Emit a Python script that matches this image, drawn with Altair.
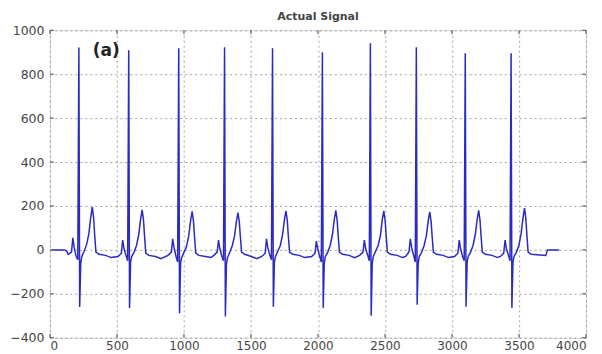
import altair as alt
import pandas as pd

# ECG samples (x = sample index, y = amplitude)
signal_x = [
    15, 110, 125,
    136, 161, 171, 181, 196, 208, 216, 222, 230, 238, 256, 274, 291, 304, 316, 326, 334, 343, 366, 416, 456,
    508, 533, 543, 553, 568, 580, 588, 594, 602, 610, 628, 646, 663, 676, 688, 698, 706, 715, 738, 788, 828,
    881, 906, 916, 926, 941, 953, 961, 967, 975, 983, 1001, 1019, 1036, 1049, 1061, 1071, 1079, 1088, 1111, 1161, 1201,
    1223, 1248, 1258, 1268, 1283, 1295, 1303, 1309, 1317, 1325, 1343, 1361, 1378, 1391, 1403, 1413, 1421, 1430, 1453, 1503, 1543,
    1581, 1606, 1616, 1626, 1641, 1653, 1661, 1667, 1675, 1683, 1701, 1719, 1736, 1749, 1761, 1771, 1779, 1788, 1811, 1861, 1901,
    1953, 1978, 1988, 1998, 2013, 2025, 2033, 2039, 2047, 2055, 2073, 2091, 2108, 2121, 2133, 2143, 2151, 2160, 2183, 2233, 2273,
    2311, 2336, 2346, 2356, 2371, 2383, 2391, 2397, 2405, 2413, 2431, 2449, 2466, 2479, 2491, 2501, 2509, 2518, 2541, 2591, 2631,
    2654, 2679, 2689, 2699, 2714, 2726, 2734, 2740, 2748, 2756, 2774, 2792, 2809, 2822, 2834, 2844, 2852, 2861, 2884, 2934, 2974,
    3019, 3044, 3054, 3064, 3079, 3091, 3099, 3105, 3113, 3121, 3139, 3157, 3174, 3187, 3199, 3209, 3217, 3226, 3249, 3299, 3339,
    3361, 3386, 3396, 3406, 3421, 3433, 3441, 3447, 3455, 3463, 3481, 3499, 3516, 3529, 3541, 3551, 3559, 3568, 3591, 3700, 3712, 3800,
]
signal_y = [
    0, 0, -5,
    -20, -10, 55, 10, -30, -45, 922, -260, -60, -30, -5, 25, 75, 146, 195, 146, 68, -10, -20, -25, -35,
    -30, -15, 45, 5, -25, -50, 909, -265, -55, -30, -10, 20, 70, 137, 182, 137, 64, -15, -25, -30, -40,
    -25, -10, 50, 10, -30, -55, 918, -288, -60, -35, -10, 15, 65, 131, 175, 131, 61, -15, -25, -30, -35,
    -25, -10, 45, 5, -30, -50, 923, -303, -65, -35, -10, 20, 65, 128, 170, 128, 60, -10, -20, -30, -40,
    -30, -15, 50, 10, -25, -45, 918, -259, -55, -30, -5, 20, 70, 134, 178, 134, 62, -10, -20, -25, -35,
    -30, -15, 40, 5, -30, -55, 900, -264, -60, -30, -10, 20, 70, 135, 180, 135, 63, -10, -20, -25, -35,
    -25, -10, 45, 5, -25, -50, 941, -300, -60, -30, -5, 20, 65, 134, 178, 134, 62, -10, -20, -25, -35,
    -30, -10, 50, 10, -25, -55, 923, -250, -60, -30, -10, 20, 65, 130, 173, 130, 61, -10, -20, -25, -35,
    -30, -15, 45, 5, -30, -50, 895, -259, -55, -30, -10, 20, 70, 135, 180, 135, 63, -10, -20, -25, -35,
    -30, -15, 45, 5, -25, -50, 895, -264, -55, -30, -10, 20, 75, 142, 190, 142, 66, -10, -20, -25, 0, 0,
]

x_ticks = [0, 500, 1000, 1500, 2000, 2500, 3000, 3500, 4000]
y_ticks = [-400, -200, 0, 200, 400, 600, 800, 1000]

W, H = 537, 308

df = pd.DataFrame({"x": signal_x, "y": signal_y})
xt = pd.DataFrame({"t": x_ticks})
yt = pd.DataFrame({"t": y_ticks})

xs = alt.Scale(domain=[0, 4000], nice=False)
ys = alt.Scale(domain=[-400, 1000], nice=False)

AX_FONT = "DejaVu Sans"

line = alt.Chart(df).mark_line(color="#2b2bc4", strokeWidth=1.5).encode(
    x=alt.X("x:Q", scale=xs, title=None,
            axis=alt.Axis(values=x_ticks, format="d", grid=True, gridColor="#8a8a8a", gridDash=[2, 3],
                          gridWidth=0.8, tickSize=0, domain=False, labelPadding=3,
                          labelFont=AX_FONT, labelFontSize=12, labelColor="#444444")),
    y=alt.Y("y:Q", scale=ys, title=None,
            axis=alt.Axis(values=y_ticks, format="d", grid=True, gridColor="#8a8a8a", gridDash=[2, 3],
                          gridWidth=0.8, tickSize=0, domain=False, labelPadding=6,
                          labelFont=AX_FONT, labelFontSize=12.5, labelColor="#444444")),
)

tick_color = "#555555"
bx = alt.Chart(xt).mark_rule(color=tick_color, strokeWidth=1).encode(
    x=alt.X("t:Q", scale=xs), y=alt.value(H), y2=alt.value(H - 4))
tx = alt.Chart(xt).mark_rule(color=tick_color, strokeWidth=1).encode(
    x=alt.X("t:Q", scale=xs), y=alt.value(0), y2=alt.value(4))
ly = alt.Chart(yt).mark_rule(color=tick_color, strokeWidth=1).encode(
    y=alt.Y("t:Q", scale=ys), x=alt.value(0), x2=alt.value(4))
ry = alt.Chart(yt).mark_rule(color=tick_color, strokeWidth=1).encode(
    y=alt.Y("t:Q", scale=ys), x=alt.value(W), x2=alt.value(W - 4))

label_df = pd.DataFrame({"x": [320], "y": [905], "label": ["(a)"]})
label = alt.Chart(label_df).mark_text(
    font=AX_FONT, fontSize=17, fontWeight="bold", color="#222222", align="left", baseline="middle"
).encode(x=alt.X("x:Q", scale=xs), y=alt.Y("y:Q", scale=ys), text="label:N")

chart = alt.layer(line, bx, tx, ly, ry, label).properties(
    width=W, height=H,
    title=alt.TitleParams("Actual Signal", font=AX_FONT, fontSize=11, fontWeight="bold",
                          color="#444444", offset=2, anchor="middle"),
    autosize=alt.AutoSizeParams(type="none"),
    padding={"left": 42, "top": 22, "right": 8, "bottom": 16},
).configure_view(stroke="#555555", strokeWidth=1.2).configure(background="white")

chart.save("out.html", embed_options={"renderer": "svg", "actions": False})
